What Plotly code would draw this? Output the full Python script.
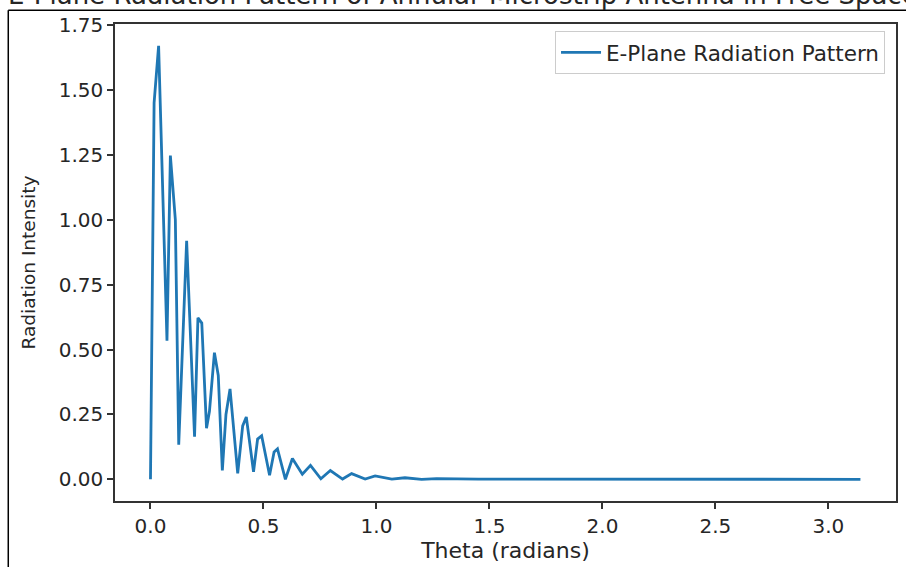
import plotly.graph_objects as go

# Data (theta in radians, intensity)
theta = [0.000, 0.016, 0.036, 0.073, 0.088, 0.110, 0.125, 0.160, 0.195, 0.210,
         0.227, 0.248, 0.261, 0.283, 0.300, 0.318, 0.334, 0.352, 0.386, 0.408,
         0.424, 0.456, 0.474, 0.492, 0.527, 0.547, 0.562, 0.597, 0.628, 0.672,
         0.708, 0.754, 0.796, 0.850, 0.890, 0.950, 0.994, 1.068, 1.126, 1.200,
         1.266, 1.350, 1.450, 3.1416]
intensity = [0.000, 1.450, 1.670, 0.534, 1.247, 1.000, 0.133, 0.919, 0.164, 0.622,
             0.602, 0.197, 0.262, 0.488, 0.400, 0.034, 0.250, 0.348, 0.023, 0.206,
             0.240, 0.029, 0.155, 0.168, 0.016, 0.105, 0.117, 0.000, 0.080, 0.020,
             0.054, 0.002, 0.034, 0.001, 0.022, 0.001, 0.013, 0.001, 0.006, 0.000,
             0.003, 0.001, 0.001, 0.000]

x_ticks = [0.0, 0.5, 1.0, 1.5, 2.0, 2.5, 3.0]
x_tick_labels = ["0.0", "0.5", "1.0", "1.5", "2.0", "2.5", "3.0"]
y_ticks = [0.0, 0.25, 0.5, 0.75, 1.0, 1.25, 1.5, 1.75]
y_tick_labels = ["0.00", "0.25", "0.50", "0.75", "1.00", "1.25", "1.50", "1.75"]

series_name = "E-Plane Radiation Pattern"
title_text = "E-Plane Radiation Pattern of Annular Microstrip Antenna in Free Space"
x_title = "Theta (radians)"
y_title = "Radiation Intensity"

W, H = 906, 567
ml, mr, mt, mb = 115, 8, 24, 58
pw, ph = W - ml - mr, H - mt - mb

def px_x(p):
    return (p - ml) / pw

def px_y(p):
    return 1 - (p - mt) / ph

FONT = "DejaVu Sans, Verdana, sans-serif"
AX = "#333333"

fig = go.Figure()
fig.add_trace(go.Scatter(
    x=theta, y=intensity, mode="lines", name=series_name,
    line=dict(color="#1f77b4", width=2.8),
))

fig.update_layout(
    width=W, height=H,
    margin=dict(l=ml, r=mr, t=mt, b=mb, pad=0),
    paper_bgcolor="white", plot_bgcolor="white",
    font=dict(family=FONT, size=20, color="#262626"),
    showlegend=True,
    legend=dict(
        x=px_x(887), xanchor="right", y=px_y(31), yanchor="top",
        bgcolor="rgba(255,255,255,0.8)", bordercolor="#cccccc", borderwidth=1,
        font=dict(family=FONT, size=21.5, color="#262626"),
        itemwidth=40,
    ),
    xaxis=dict(
        range=[-0.157, 3.299], tickvals=x_ticks, ticktext=x_tick_labels,
        showgrid=False, zeroline=False, showline=True, linecolor=AX, linewidth=1.5,
        mirror=True, ticks="outside", ticklen=6, tickwidth=1.5, tickcolor=AX,
        tickfont=dict(size=20),
        title=dict(text=x_title, font=dict(size=22), standoff=6),
    ),
    yaxis=dict(
        range=[-0.0835, 1.754], tickvals=y_ticks, ticktext=y_tick_labels,
        showgrid=False, zeroline=False, showline=True, linecolor=AX, linewidth=1.5,
        mirror=True, ticks="outside", ticklen=6, tickwidth=1.5, tickcolor=AX,
        tickfont=dict(size=20),
        title=dict(text=y_title, font=dict(size=18.5), standoff=18),
    ),
)

# Partly cut-off title at the very top (as in the reference)
fig.add_annotation(
    text=title_text, xref="paper", yref="paper",
    x=px_x(6), y=px_y(-5), xanchor="left", yanchor="middle",
    showarrow=False, font=dict(family=FONT, size=26, color="#262626"),
)

# Outer frame lines of the screenshot
fig.add_shape(type="line", xref="paper", yref="paper",
              x0=px_x(8), x1=px_x(910), y0=px_y(10), y1=px_y(10),
              line=dict(color="black", width=1.5))
fig.add_shape(type="line", xref="paper", yref="paper",
              x0=px_x(8), x1=px_x(8), y0=px_y(10), y1=px_y(580),
              line=dict(color="black", width=1.5))

fig.write_html("out.html")
